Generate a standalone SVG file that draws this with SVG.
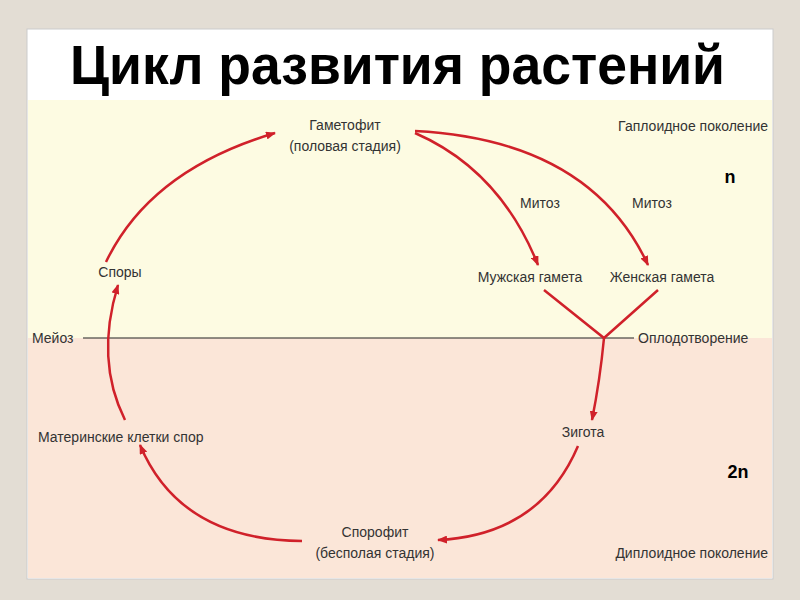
<svg xmlns="http://www.w3.org/2000/svg" width="800" height="600" viewBox="0 0 800 600">
<style>
.t{font-family:"Liberation Sans",Arial,sans-serif;font-size:14px;fill:#333;}
.c{stroke:#d0212a;stroke-width:2.5;fill:none;marker-end:url(#ah);}
.l{stroke:#d0212a;stroke-width:2.5;fill:none;}
</style>
<defs><marker id="ah" markerWidth="10" markerHeight="8" refX="9" refY="4" orient="auto" markerUnits="userSpaceOnUse" viewBox="0 0 10 8"><path d="M0,0 L10,4 L0,8 Z" fill="#d0212a"/></marker></defs>
<rect width="800" height="600" fill="#e3ddd4"/>
<rect x="27" y="29" width="746" height="550" fill="#fff" stroke="#ccc"/>
<rect x="28" y="100" width="744" height="238" fill="#fdfbe2"/>
<rect x="28" y="338" width="744" height="240" fill="#fbe6d8"/>
<text x="70" y="84" textLength="655" lengthAdjust="spacingAndGlyphs" font-family="Liberation Sans,Arial,sans-serif" font-size="55" font-weight="bold">Цикл  развития растений</text>
<g id="connectors">
<line x1="83" y1="338" x2="634" y2="338" stroke="#222" stroke-width="1.2"/>
<path class="c" d="M106,262 Q150,170 275,133"/>
<path class="c" d="M415,133 Q500,170 538,265"/>
<path class="c" d="M415,131 Q590,140 648,265"/>
<path class="l" d="M544,290 L604,338 L658,290"/>
<path class="c" d="M604,338 Q600,380 592,420"/>
<path class="c" d="M578,446 Q540,535 438,540"/>
<path class="c" d="M302,541 Q180,540 140,445"/>
<path class="c" d="M125,420 Q95,360 118,285"/>
</g>
<g id="gametophyte"><text class="t" x="345" y="130" text-anchor="middle">Гаметофит</text><text class="t" x="345" y="151" text-anchor="middle">(половая стадия)</text></g>
<g id="haploid"><text class="t" x="768" y="131" text-anchor="end">Гаплоидное поколение</text></g>
<g id="n"><text x="730" y="183" text-anchor="middle" font-family="Liberation Sans,Arial,sans-serif" font-size="18" font-weight="bold">n</text></g>
<g id="mitoz1"><text class="t" x="540" y="208" text-anchor="middle">Митоз</text></g>
<g id="mitoz2"><text class="t" x="652" y="208" text-anchor="middle">Митоз</text></g>
<g id="spory"><text class="t" x="120" y="277" text-anchor="middle">Споры</text></g>
<g id="male"><text class="t" x="530" y="282" text-anchor="middle">Мужская гамета</text></g>
<g id="female"><text class="t" x="662" y="282" text-anchor="middle">Женская гамета</text></g>
<g id="meioz"><text class="t" x="32" y="343">Мейоз</text></g>
<g id="fert"><text class="t" x="638" y="343">Оплодотворение</text></g>
<g id="mother"><text class="t" x="38" y="442">Материнские клетки спор</text></g>
<g id="zygote"><text class="t" x="583" y="437" text-anchor="middle">Зигота</text></g>
<g id="n2"><text x="738" y="478" text-anchor="middle" font-family="Liberation Sans,Arial,sans-serif" font-size="18" font-weight="bold">2n</text></g>
<g id="sporophyte"><text class="t" x="375" y="537" text-anchor="middle">Спорофит</text><text class="t" x="375" y="558" text-anchor="middle">(бесполая стадия)</text></g>
<g id="diploid"><text class="t" x="768" y="558" text-anchor="end">Диплоидное поколение</text></g>
</svg>
